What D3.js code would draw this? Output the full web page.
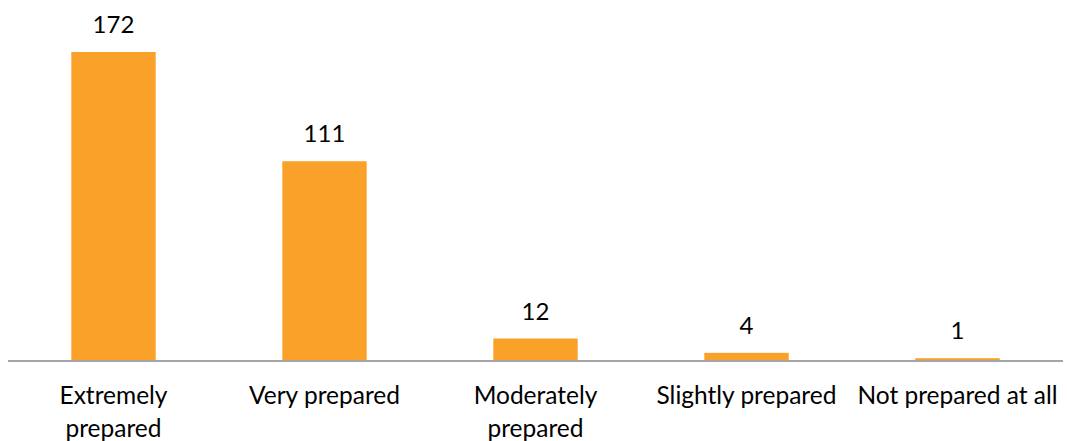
<!DOCTYPE html>
<html><head><meta charset="utf-8">
<script src="https://cdn.jsdelivr.net/npm/d3@7"></script>
<style>body{margin:0;background:#fff}svg{display:block}</style>
</head><body>
<svg id="c" width="1067" height="441"></svg>
<script>
const categories = [["Extremely","prepared"],["Very prepared"],["Moderately","prepared"],["Slightly prepared"],["Not prepared at all"]];
const values = [172, 111, 12, 4, 1];

const svg = d3.select("#c");
const left = 8, right = 1063, baseY = 360, topY = 52;
const keys = categories.map((c,i)=>i);
const x = d3.scaleBand().domain(keys).range([left,right]).paddingInner(0.6).paddingOuter(0.3);
const y = d3.scaleLinear().domain([0,172]).range([baseY, topY]);
const font = "Lato, 'Open Sans', sans-serif";

svg.selectAll("rect.bar").data(values).enter().append("rect")
  .attr("class","bar")
  .attr("x",(d,i)=>x(i)).attr("width",x.bandwidth())
  .attr("y",d=>y(d)).attr("height",d=>baseY-y(d))
  .attr("fill","#F9A128");

svg.append("line").attr("x1",left).attr("x2",right).attr("y1",baseY+1).attr("y2",baseY+1)
  .attr("stroke","#A6A6A6").attr("stroke-width",2);

svg.selectAll("text.val").data(values).enter().append("text")
  .attr("x",(d,i)=>x(i)+x.bandwidth()/2).attr("y",d=>y(d)-19)
  .attr("text-anchor","middle").attr("font-family",font).attr("font-size",24).attr("fill","#000")
  .text(d=>d);

const lab = svg.selectAll("text.cat").data(categories).enter().append("text")
  .attr("text-anchor","middle").attr("font-family",font).attr("font-size",24.5).attr("fill","#000");
lab.each(function(lines,i){
  const t = d3.select(this);
  lines.forEach((s,j)=>t.append("tspan").attr("x",x(i)+x.bandwidth()/2).attr("y",404+j*32.5).text(s));
});
</script>
</body></html>
